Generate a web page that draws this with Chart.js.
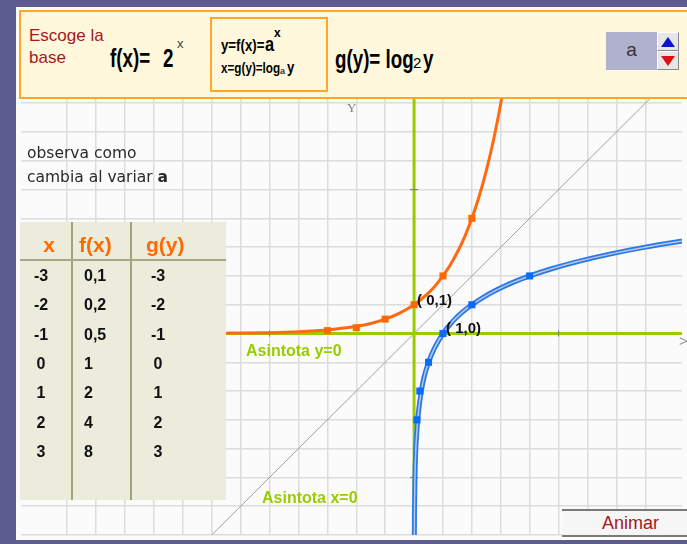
<!DOCTYPE html>
<html lang="es">
<head>
<meta charset="utf-8">
<title>Función exponencial y logarítmica</title>
<script src="https://cdn.jsdelivr.net/npm/chart.js@4/dist/chart.umd.min.js"></script>
<style>
  body { margin:0; width:687px; height:544px; overflow:hidden; position:relative;
         background:#5d5c8f; font-family:"Liberation Sans", Arial, sans-serif; }
  .abs { position:absolute; white-space:nowrap; line-height:1; }
  .cond { transform:scaleX(0.78); transform-origin:0 0; }
  .grande { font-size:25px; font-weight:bold; transform:scaleX(0.75); transform-origin:0 0; }
  #hoja { position:absolute; left:16px; top:7px; width:671px; height:533px; background:#fbfbfb; }
  #cabecera { position:absolute; left:19px; top:10px; width:690px; height:89px; box-sizing:border-box;
              border:2px solid #ffa62b; background:#fff8dc; }
  #formulas { position:absolute; left:210px; top:17px; width:118px; height:75px; box-sizing:border-box;
              border:2px solid #ffa62b; }
  #base { position:absolute; left:606px; top:32px; width:51px; height:38px; background:#b0b0cf;
          color:#333; font-size:19px; text-align:center; line-height:1; }
  .boton { position:absolute; left:657px; width:22px; height:19px; box-sizing:border-box; background:#e6e6e6;
           border:1px solid; border-color:#fff #888 #888 #fff; }
  .boton i { position:absolute; left:3px; width:0; height:0; border-left:7px solid transparent; border-right:7px solid transparent; }
  #tabla { position:absolute; left:20px; top:222px; width:206px; height:278px; background:#ececdc; }
  .col { position:absolute; top:0; width:2px; height:278px; background:#a2a274; }
  .cab { color:#ff6a00; font-weight:bold; font-size:21px; }
  .celda { font-weight:bold; font-size:16px; color:#111; }
  .punto { font-weight:bold; font-size:15px; color:#111; }
  .asintota { font-weight:bold; font-size:16px; color:#99cc00; }
  #animar { position:absolute; left:562px; top:509px; width:137px; height:28px; box-sizing:border-box;
            border-top:2px solid #7a7a7a; border-bottom:2px solid #7a7a7a; background:#f6f6f6;
            color:#a3181c; font-size:18px; line-height:24px; padding-left:40px; }
</style>
</head>
<body>
<div id="hoja"><canvas id="grafica" width="671" height="533"></canvas></div>

<div class="abs" style="left:347px;top:101px;font-family:'Liberation Serif',serif;font-size:13px;color:#808080">Y</div>
<div class="abs" style="left:679px;top:333px;font-size:15px;color:#999">&gt;</div>

<div id="cabecera"></div>
<div class="abs" style="left:29px;top:25px;font-size:17px;line-height:22px;color:#a3181c">Escoge la<br>base</div>
<div class="abs grande" style="left:110px;top:46px">f(x)=</div>
<div class="abs grande" style="left:163px;top:46px">2</div>
<div class="abs" style="left:177px;top:37px;font-size:13px;color:#444">x</div>
<div id="formulas"></div>
<div class="abs cond" style="left:221px;top:37px;font-size:17px;font-weight:bold">y=f(x)=</div>
<div class="abs cond" style="left:265px;top:33px;font-size:21px;font-weight:bold">a</div>
<div class="abs" style="left:274px;top:27px;font-size:12px;font-weight:bold">x</div>
<div class="abs cond" style="left:221px;top:60px;font-size:15px;font-weight:bold">x=g(y)=log</div>
<div class="abs" style="left:280px;top:67px;font-size:9px;font-weight:bold;color:#333">a</div>
<div class="abs cond" style="left:287px;top:59px;font-size:17px;font-weight:bold">y</div>
<div class="abs grande" style="left:335px;top:47px">g(y)= log</div>
<div class="abs" style="left:413px;top:55px;font-size:15px">2</div>
<div class="abs grande" style="left:423px;top:47px">y</div>
<div id="base"><div style="padding-top:8px">a</div></div>
<div class="boton" style="top:32px"><i style="top:4px;border-bottom:10px solid #1010d0"></i></div>
<div class="boton" style="top:51px"><i style="top:4px;border-top:10px solid #e01010"></i></div>

<div class="abs" style="left:27px;top:141px;font-family:'DejaVu Sans',sans-serif;font-size:15.5px;line-height:24px;color:#2a2a2a">observa como<br>cambia al variar <b>a</b></div>

<div id="tabla">
  <div class="col" style="left:51px"></div>
  <div class="col" style="left:110px"></div>
  <div style="position:absolute;left:0;top:37px;width:206px;height:2px;background:#a8a884"></div>
</div>

<div class="abs punto" style="left:417px;top:292px">( 0,1)</div>
<div class="abs punto" style="left:446px;top:320px">( 1,0)</div>
<div class="abs asintota" style="left:246px;top:343px">Asintota y=0</div>
<div class="abs asintota" style="left:262px;top:490px">Asintota x=0</div>

<div id="animar">Animar</div>

<script>
// valores de la tabla
const tablaX = [-3, -2, -1, 0, 1, 2, 3];
const tablaFx = [0.1, 0.2, 0.5, 1, 2, 4, 8];
const tablaGy = [-3, -2, -1, 0, 1, 2, 3];

// trazo de f(x)=2^x leido sobre la rejilla
const curvaX = [-13.6, -10, -8, -6, -5, -4, -3.5, -3, -2.5, -2, -1.5, -1, -0.5, 0, 0.25, 0.5, 0.75, 1, 1.25, 1.5, 1.75, 2, 2.25, 2.5, 2.75, 3, 3.3];
const curvaY = [0, 0.001, 0.004, 0.016, 0.03, 0.06, 0.09, 0.125, 0.18, 0.25, 0.35, 0.5, 0.71, 1, 1.19, 1.41, 1.68, 2, 2.38, 2.83, 3.36, 4, 4.76, 5.66, 6.73, 8, 9.85];

// recta y=x y marcas de los ejes
const diagonal = [-7, 11.2];
const marcasEje = [-5, 5];

const xMin = -13.6, xMax = 9.27, yMin = -7, yMax = 11.17;

// tabla de valores
const tabla = document.getElementById('tabla');
const celda = (txt, css) => {
  const d = document.createElement('div');
  d.className = 'abs ' + (css.cls || 'celda');
  d.textContent = txt;
  Object.assign(d.style, css);
  tabla.appendChild(d);
};
const coma = v => String(v).replace('.', ',');
celda('x', { cls: 'cab', left: '0px', width: '58px', textAlign: 'center', top: '12px' });
celda('f(x)', { cls: 'cab', left: '59px', top: '12px' });
celda('g(y)', { cls: 'cab', left: '126px', top: '12px' });
tablaX.forEach((x, i) => {
  const top = (46 + i * 29.33) + 'px';
  celda(String(x), { left: '1px', width: '40px', textAlign: 'center', top });
  celda(coma(tablaFx[i]), { left: '64px', top });
  celda(String(tablaGy[i]), { left: '118px', width: '40px', textAlign: 'center', top });
});

const pares = (xs, ys) => xs.map((x, i) => ({ x: x, y: ys[i] }));
const enteros = scale => {
  scale.ticks = scale.ticks.filter(t => Math.abs(t.value - Math.round(t.value)) < 1e-9);
};

// el ultimo par de la tabla queda fuera de la zona visible
const marcados = tablaX.length - 1;

new Chart(document.getElementById('grafica'), {
  type: 'scatter',
  data: {
    datasets: [
      { data: pares(tablaX, tablaFx).slice(0, marcados), pointStyle: 'rect', pointRadius: 5, backgroundColor: '#ff6a00', borderWidth: 0 },
      { data: pares(tablaFx, tablaGy).slice(0, marcados), pointStyle: 'rect', pointRadius: 5, backgroundColor: '#0a6cf5', borderWidth: 0 },
      { data: pares(curvaX, curvaY), showLine: true, pointRadius: 0, borderColor: '#ff6a10', borderWidth: 3, cubicInterpolationMode: 'monotone' },
      { data: pares(curvaY, curvaX), showLine: true, pointRadius: 0, borderColor: '#b8c6dc', borderWidth: 1.5, cubicInterpolationMode: 'monotone' },
      { data: pares(curvaY, curvaX), showLine: true, pointRadius: 0, borderColor: '#2a78ea', borderWidth: 5, cubicInterpolationMode: 'monotone' },
      { data: marcasEje.map(v => ({ x: v, y: 0 })), pointStyle: 'line', rotation: 90, pointRadius: 3, borderColor: '#777', borderWidth: 1 },
      { data: marcasEje.map(v => ({ x: 0, y: v })), pointStyle: 'line', pointRadius: 4, borderColor: '#777', borderWidth: 1 },
      { data: [{ x: xMin, y: 0 }, { x: xMax, y: 0 }], showLine: true, pointRadius: 0, borderColor: '#99cc00', borderWidth: 3 },
      { data: [{ x: 0, y: yMin }, { x: 0, y: yMax }], showLine: true, pointRadius: 0, borderColor: '#99cc00', borderWidth: 3 },
      { data: pares(diagonal, diagonal), showLine: true, pointRadius: 0, borderColor: '#a0a0a0', borderWidth: 1 }
    ]
  },
  options: {
    responsive: false,
    animation: false,
    devicePixelRatio: 1,
    plugins: { legend: { display: false }, tooltip: { enabled: false } },
    scales: {
      x: {
        type: 'linear', min: xMin, max: xMax,
        ticks: { display: false, stepSize: 1 },
        grid: { color: '#dcdcdc', lineWidth: 1.5, drawTicks: false },
        border: { display: false },
        afterBuildTicks: enteros
      },
      y: {
        type: 'linear', min: yMin, max: yMax,
        ticks: { display: false, stepSize: 1 },
        grid: { color: '#dcdcdc', lineWidth: 1.5, drawTicks: false },
        border: { display: false },
        afterBuildTicks: enteros
      }
    }
  }
});
</script>
</body>
</html>
